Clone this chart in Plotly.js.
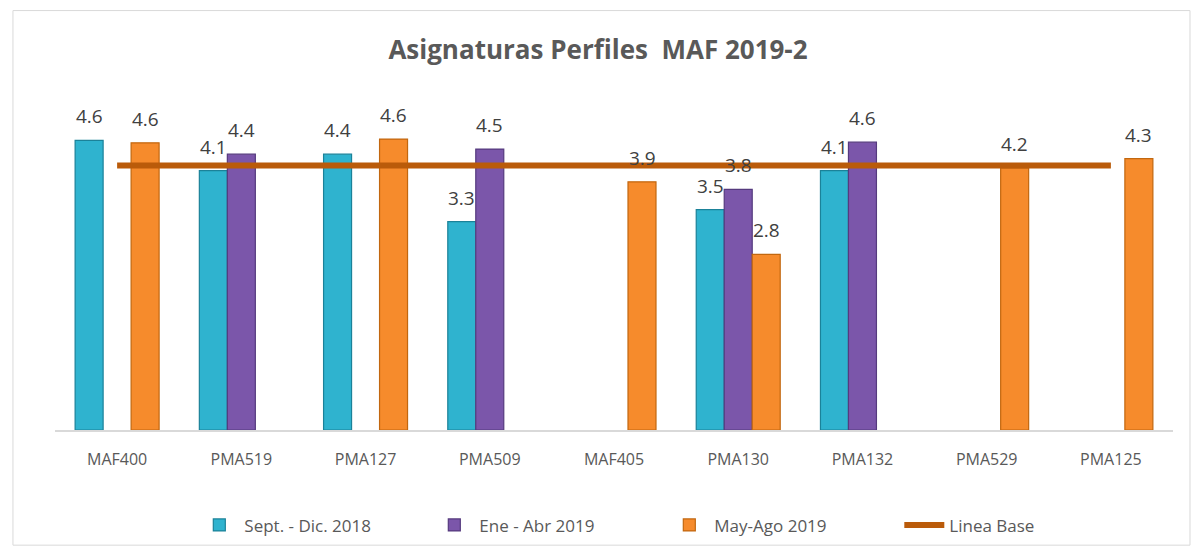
<!DOCTYPE html>
<html>
<head>
<meta charset="utf-8">
<script src="https://cdn.plot.ly/plotly-3.0.1.min.js"></script>
<style>html,body{margin:0;padding:0;background:#fff;}#chart{width:1196px;height:555px;}</style>
</head>
<body>
<div id="chart"></div>
<script>
const categories = ["MAF400","PMA519","PMA127","PMA509","MAF405","PMA130","PMA132","PMA529","PMA125"];
const sepDic2018 = [4.6, 4.12, 4.38, 3.31, null, 3.5, 4.12, null, null];
const eneAbr2019 = [null, 4.38, null, 4.46, null, 3.82, 4.57, null, null];
const mayAgo2019 = [4.56, null, 4.62, null, 3.94, 2.79, null, 4.16, 4.31];
const lineaBase = [4.2, 4.2, 4.2, 4.2, 4.2, 4.2, 4.2, 4.2, 4.2];
const seriesNames = ["Sept. - Dic. 2018", "Ene - Abr 2019", "May-Ago 2019", "Linea Base"];

const FONT = "'Open Sans', 'Noto Sans', sans-serif";
function barTrace(name, y, fill, edge) {
  return {
    type: "bar", name: name, x: categories, y: y,
    marker: {color: fill, line: {color: edge, width: 1.2}},
    hoverinfo: "x+y"
  };
}
const data = [
  barTrace(seriesNames[0], sepDic2018, "#2FB3CF", "#1B8299"),
  barTrace(seriesNames[1], eneAbr2019, "#7B56AA", "#553A7E"),
  barTrace(seriesNames[2], mayAgo2019, "#F68B2C", "#C2670F"),
  {type: "scatter", mode: "lines", name: seriesNames[3], x: categories, y: lineaBase,
   line: {color: "#BA5B0A", width: 6}, cliponaxis: false}
];

// value labels above each bar (offset by slot within group)
const slotShift = [-28, 0, 28];
const annotations = [];
[sepDic2018, eneAbr2019, mayAgo2019].forEach(function (arr, s) {
  arr.forEach(function (v, i) {
    if (v === null) return;
    annotations.push({
      xref: "x", yref: "y", x: categories[i], y: v, text: v.toFixed(1),
      showarrow: false, xanchor: "center", yanchor: "bottom",
      xshift: slotShift[s], yshift: 9,
      font: {family: FONT, size: 19, color: "#404040"}
    });
  });
});

const layout = {
  width: 1196, height: 555,
  margin: {l: 55, r: 23, t: 100, b: 123},
  paper_bgcolor: "#ffffff", plot_bgcolor: "#ffffff",
  barmode: "group", bargap: 0.324, bargroupgap: 0,
  title: {text: "<b>Asignaturas Perfiles  MAF 2019-2</b>", x: 0.5, xanchor: "center", y: 0.91, yanchor: "middle",
          font: {family: FONT, size: 26, color: "#595959"}},
  xaxis: {showgrid: false, zeroline: false, showline: true, linecolor: "#D9D9D9", linewidth: 1.5,
          ticks: "", ticklabelstandoff: 14, tickfont: {family: FONT, size: 16, color: "#595959"}, fixedrange: true},
  yaxis: {range: [0, 5.24], showgrid: false, zeroline: false, showticklabels: false, ticks: "", fixedrange: true},
  showlegend: true,
  legend: {orientation: "h", x: 0.545, xanchor: "center", y: -0.289, yanchor: "middle",
           font: {family: FONT, size: 17, color: "#595959"}, itemwidth: 40, traceorder: "normal",
           entrywidth: 180, entrywidthmode: "pixels"},
  annotations: annotations,
  shapes: [{type: "rect", xref: "paper", yref: "paper", x0: -0.0376, x1: 1.0152, y0: -0.349, y1: 1.271,
            line: {color: "#D9D9D9", width: 1}, fillcolor: "rgba(0,0,0,0)", layer: "below"}]
};
Plotly.newPlot("chart", data, layout, {displayModeBar: false, staticPlot: true});
</script>
</body>
</html>
